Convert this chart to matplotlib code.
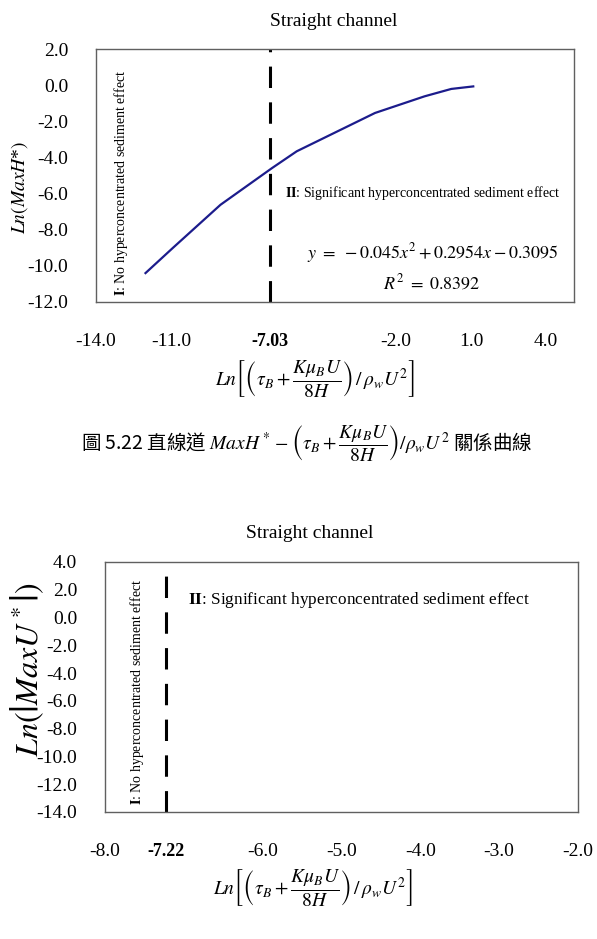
import matplotlib
matplotlib.use("Agg")
import matplotlib.pyplot as plt

plt.rcParams['font.family'] = ['Liberation Serif', 'DejaVu Serif']
plt.rcParams['mathtext.fontset'] = 'stix'

# ---------------- data ----------------
# top chart: Ln(MaxH*) vs Ln[(tau_B + K mu_B U / 8H) / rho_w U^2]
top_x = [-12.02, -10.92, -9.02, -6.96, -5.97, -2.84, -0.86, 0.21, 1.09]
top_y = [-10.40, -9.00, -6.62, -4.59, -3.66, -1.54, -0.62, -0.21, -0.07]
top_threshold = -7.03
top_xticks = [-14.0, -11.0, -7.03, -2.0, 1.0, 4.0]
top_xticklabels = ['-14.0', '-11.0', '-7.03', '-2.0', '1.0', '4.0']
top_yticks = [-12.0, -10.0, -8.0, -6.0, -4.0, -2.0, 0.0, 2.0]
top_yticklabels = ['-12.0', '-10.0', '-8.0', '-6.0', '-4.0', '-2.0', '0.0', '2.0']
top_xlim = (-14.0, 5.12)
top_ylim = (-12.0, 2.0)

# bottom chart: Ln(|MaxU*|)
bot_threshold = -7.22
bot_xticks = [-8.0, -7.22, -6.0, -5.0, -4.0, -3.0, -2.0]
bot_xticklabels = ['-8.0', '-7.22', '-6.0', '-5.0', '-4.0', '-3.0', '-2.0']
bot_yticks = [-14.0, -12.0, -10.0, -8.0, -6.0, -4.0, -2.0, 0.0, 2.0, 4.0]
bot_yticklabels = ['-14.0', '-12.0', '-10.0', '-8.0', '-6.0', '-4.0', '-2.0', '0.0', '2.0', '4.0']
bot_xlim = (-8.0, -2.0)
bot_ylim = (-14.0, 4.0)

title_text = 'Straight channel'
region1_text = r'$\mathbf{I}$: No hyperconcentrated sediment effect'
region2_text = r'$\mathbf{II}$: Significant hyperconcentrated sediment effect'
eq_text = r'$y\ =\ -0.045x^2 + 0.2954x - 0.3095$'
r2_text = r'$R^2\ =\ 0.8392$'
xlabel_text = r'$Ln\left[\left(\tau_B + \dfrac{K\mu_B U}{8H}\right)\,/\,\rho_w U^2\right]$'
top_ylabel = r'$Ln(MaxH$*$)$'
bot_ylabel = r'$Ln\left(\left|MaxU^*\right|\right)$'
caption_text = r'圖 5.22 直線道 $MaxH^* - \left(\tau_B + \dfrac{K\mu_B U}{8H}\right)/\rho_w U^2$ 關係曲線'

W, H = 597, 939
fig = plt.figure(figsize=(W / 100, H / 100), dpi=100)

frame_color = '#606060'


def px_axes(l, t, r, b):
    return fig.add_axes([l / W, 1 - b / H, (r - l) / W, (b - t) / H])


def style_axes(ax):
    for s in ax.spines.values():
        s.set_color(frame_color)
        s.set_linewidth(1.0)
    ax.tick_params(length=0, labelsize=14, colors='black')
    ax.tick_params(axis='y', pad=20)
    ax.tick_params(axis='x', pad=22)


# ---------------- top chart ----------------
ax1 = px_axes(96, 49, 574, 302)
ax1.plot(top_x, top_y, color='#1c1c8c', lw=1.6, solid_joinstyle='miter')
ax1.axvline(top_threshold, color='black', lw=2.2, dashes=(7, 4.7))
ax1.set_xlim(*top_xlim)
ax1.set_ylim(*top_ylim)
ax1.set_xticks(top_xticks)
ax1.set_xticklabels(top_xticklabels)
ax1.set_yticks(top_yticks)
ax1.set_yticklabels(top_yticklabels)
style_axes(ax1)
for lab in ax1.get_xticklabels():
    if lab.get_text() == '-7.03':
        lab.set_fontweight('bold')
        lab.set_fontsize(13)

ax1.text((121.5 - 96) / 478, (302 - 296) / 253, region1_text, rotation=90,
         ha='center', va='bottom', fontsize=10, transform=ax1.transAxes)
ax1.text((285 - 96) / 478, (302 - 193) / 253, region2_text,
         ha='left', va='center', fontsize=10, transform=ax1.transAxes)
ax1.text((433 - 96) / 478, (302 - 253) / 253, eq_text,
         ha='center', va='center', fontsize=13, transform=ax1.transAxes)
ax1.text((432 - 96) / 478, (302 - 283) / 253, r2_text,
         ha='center', va='center', fontsize=13, transform=ax1.transAxes)

fig.text(334 / W, 1 - 22 / H, title_text, ha='center', va='center', fontsize=14)
fig.text(20 / W, 1 - 187 / H, top_ylabel, rotation=90, ha='center', va='center', fontsize=14)
fig.text(315 / W, 1 - 379 / H, xlabel_text, ha='center', va='center', fontsize=14)

fig.text(307 / W, 1 - 444 / H, caption_text, ha='center', va='center', fontsize=14,
         family=['Noto Sans CJK TC', 'DejaVu Sans'])

# ---------------- bottom chart ----------------
ax2 = px_axes(105, 562, 578, 812)
ax2.axvline(bot_threshold, color='black', lw=2.2, dashes=(7, 4.7))
ax2.set_xlim(*bot_xlim)
ax2.set_ylim(*bot_ylim)
ax2.set_xticks(bot_xticks)
ax2.set_xticklabels(bot_xticklabels)
ax2.set_yticks(bot_yticks)
ax2.set_yticklabels(bot_yticklabels)
style_axes(ax2)
for lab in ax2.get_xticklabels():
    if lab.get_text() == '-7.22':
        lab.set_fontweight('bold')
        lab.set_fontsize(13)

ax2.text((137 - 105) / 473, (812 - 805) / 250, region1_text, rotation=90,
         ha='center', va='bottom', fontsize=10, transform=ax2.transAxes)
ax2.text((188 - 105) / 473, (812 - 600) / 250, region2_text,
         ha='left', va='center', fontsize=12.4, transform=ax2.transAxes)

fig.text(310 / W, 1 - 534 / H, title_text, ha='center', va='center', fontsize=14)
fig.text(27 / W, 1 - 670 / H, bot_ylabel, rotation=90, ha='center', va='center', fontsize=23)
fig.text(313 / W, 1 - 887 / H, xlabel_text, ha='center', va='center', fontsize=14)

fig.savefig('out.png', dpi=100, facecolor='white')
